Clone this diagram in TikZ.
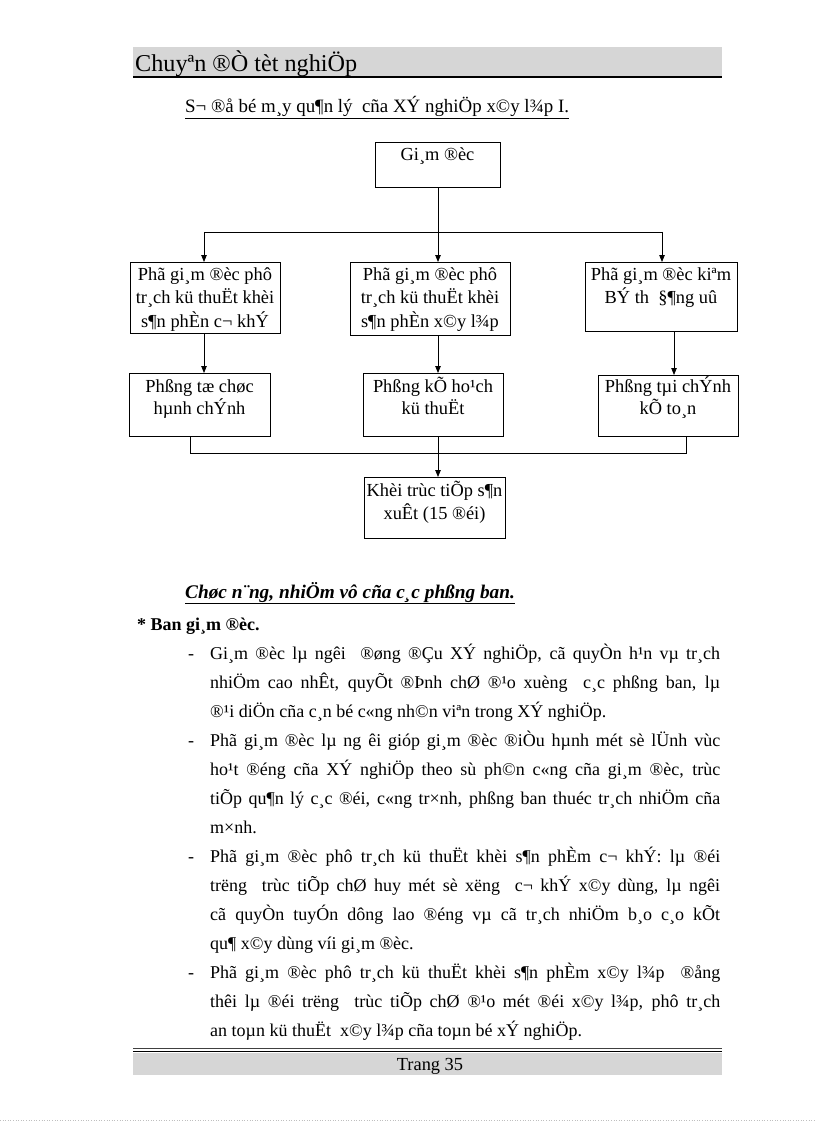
\documentclass[tikz,border=0pt]{standalone}
\usepackage{fontspec}
\setmainfont{Liberation Serif}
\usetikzlibrary{arrows.meta}
\begin{document}
\begin{tikzpicture}[x=1pt,y=-1pt,
  box/.style={draw, line width=0.9pt, anchor=north west, inner sep=0pt},
  btxt/.style={anchor=base, inner sep=0pt, font=\fontsize{18.4}{20}\selectfont},
  arr/.style={line width=0.8pt, -{Triangle[length=7pt,width=5.5pt]}},
  ln/.style={line width=0.8pt},
  body/.style={anchor=base west, inner sep=0pt, font=\fontsize{18}{20}\selectfont},
  band/.style={fill=black!16, draw=none},
]
\useasboundingbox (0,0) rectangle (816,1123);
\fill[white] (0,0) rectangle (816,1123);

% header
\fill[band] (133,47) rectangle (722,76);
\draw[line width=1.3pt] (133,77) -- (722,77);
\node[anchor=base west, inner sep=0pt, font=\fontsize{24.2}{26}\selectfont] (hdr) at (135,72) {Chuyªn ®Ò tèt nghiÖp};

% title
\node[anchor=base west, inner sep=0pt, font=\fontsize{18.9}{22}\selectfont] (ttl) at (185,113) {\underline{S¬ ®å bé m¸y qu¶n lý\ \ cña XÝ nghiÖp x©y l¾p I.}};

% boxes
\node[box, minimum width=125pt, minimum height=45pt] (g) at (375,142) {};
\node[btxt] (gt) at (437.5,161) {Gi¸m ®èc};

\node[box, minimum width=150pt, minimum height=71pt] (b1) at (130,262) {};
\node[btxt] (b1a) at (205,280) {Phã gi¸m ®èc phô};
\node[btxt] (b1b) at (205,303) {tr¸ch kü thuËt khèi};
\node[btxt] (b1c) at (205,327) {s¶n phÈn c¬ khÝ};

\node[box, minimum width=160pt, minimum height=73pt] (b2) at (350,262) {};
\node[btxt] (b2a) at (430,280) {Phã gi¸m ®èc phô};
\node[btxt] (b2b) at (430,303) {tr¸ch kü thuËt khèi};
\node[btxt] (b2c) at (430,327) {s¶n phÈn x©y l¾p};

\node[box, minimum width=152pt, minimum height=69pt] (b3) at (585,262) {};
\node[btxt] (b3a) at (661,280) {Phã gi¸m ®èc kiªm};
\node[btxt] (b3b) at (661,303) {BÝ th\ \ §¶ng uû};

\node[box, minimum width=141pt, minimum height=63pt] (c1) at (129,373) {};
\node[btxt] (c1a) at (199.5,392) {Phßng tæ chøc};
\node[btxt] (c1b) at (199.5,414) {hµnh chÝnh};

\node[box, minimum width=140pt, minimum height=63pt] (c2) at (363,373) {};
\node[btxt] (c2a) at (433,392) {Phßng kÕ ho¹ch};
\node[btxt] (c2b) at (433,414) {kü thuËt};

\node[box, minimum width=140pt, minimum height=61pt] (c3) at (598,375) {};
\node[btxt] (c3a) at (668,392) {Phßng tµi chÝnh};
\node[btxt] (c3b) at (668,414) {kÕ to¸n};

\node[box, minimum width=141pt, minimum height=61pt] (d) at (364,477) {};
\node[btxt] (da) at (434.5,496) {Khèi trùc tiÕp s¶n};
\node[btxt] (db) at (434.5,519) {xuÊt (15 ®éi)};

% connectors
\coordinate (hc) at (438,232);
\coordinate (hl) at (204,232);
\coordinate (hr) at (662,232);
\draw[ln] (g.south -| hc) -- (hc);
\draw[ln] (hl) -- (hr);
\draw[arr] (hl) -- (b1.north -| hl);
\draw[arr] (hc) -- (b2.north -| hc);
\draw[arr] (hr) -- (b3.north -| hr);

\coordinate (v1) at (204,0);
\coordinate (v3) at (674,0);
\draw[arr] (b1.south -| v1) -- (c1.north -| v1);
\draw[arr] (b2.south -| hc) -- (c2.north -| hc);
\draw[arr] (b3.south -| v3) -- (c3.north -| v3);

\coordinate (jl) at (190,453);
\coordinate (jr) at (686,453);
\draw[ln] (c1.south -| jl) -- (jl) -- (jr) -- (c3.south -| jr);
\draw[arr] (c2.south -| hc) -- (d.north -| hc);

% body text
\node[anchor=base west, inner sep=0pt, font=\fontsize{19.3}{20}\selectfont\bfseries\itshape] (h2) at (185,598) {\underline{Chøc n¨ng, nhiÖm vô cña c¸c phßng ban.}};
\node[body, font=\fontsize{18}{20}\selectfont\bfseries] (h3) at (137,630) {* Ban gi¸m ®èc.};

\node[body] (d1) at (188,659) {-};
\node[body] (t11) at (210,659) {\makebox[510pt][s]{Gi¸m ®èc lµ ngêi\ \ ®øng ®Çu XÝ nghiÖp, cã quyÒn h¹n vµ tr¸ch}};
\node[body] (t12) at (210,688) {\makebox[510pt][s]{nhiÖm cao nhÊt, quyÕt ®Þnh chØ ®¹o xuèng\ \ c¸c phßng ban, lµ}};
\node[body] (t13) at (210,717) {®¹i diÖn cña c¸n bé c«ng nh©n viªn trong XÝ nghiÖp.};

\node[body] (d2) at (188,746) {-};
\node[body] (t21) at (210,746) {\makebox[510pt][s]{Phã gi¸m ®èc lµ ng êi gióp gi¸m ®èc ®iÒu hµnh mét sè lÜnh vùc}};
\node[body] (t22) at (210,775) {\makebox[510pt][s]{ho¹t ®éng cña XÝ nghiÖp theo sù ph©n c«ng cña gi¸m ®èc, trùc}};
\node[body] (t23) at (210,804) {\makebox[510pt][s]{tiÕp qu¶n lý c¸c ®éi, c«ng tr×nh, phßng ban thuéc tr¸ch nhiÖm cña}};
\node[body] (t24) at (210,833) {m×nh.};

\node[body] (d3) at (188,862) {-};
\node[body] (t31) at (210,862) {\makebox[510pt][s]{Phã gi¸m ®èc phô tr¸ch kü thuËt khèi s¶n phÈm c¬ khÝ: lµ ®éi}};
\node[body] (t32) at (210,891) {\makebox[510pt][s]{trëng\ \ trùc tiÕp chØ huy mét sè xëng\ \ c¬ khÝ x©y dùng, lµ ngêi}};
\node[body] (t33) at (210,920) {\makebox[510pt][s]{cã quyÒn tuyÓn dông lao ®éng vµ cã tr¸ch nhiÖm b¸o c¸o kÕt}};
\node[body] (t34) at (210,949) {qu¶ x©y dùng víi gi¸m ®èc.};

\node[body] (d4) at (188,978) {-};
\node[body] (t41) at (210,978) {\makebox[510pt][s]{Phã gi¸m ®èc phô tr¸ch kü thuËt khèi s¶n phÈm x©y l¾p\ \ ®ång}};
\node[body] (t42) at (210,1007) {\makebox[510pt][s]{thêi lµ ®éi trëng\ \ trùc tiÕp chØ ®¹o mét ®éi x©y l¾p, phô tr¸ch}};
\node[body] (t43) at (210,1036) {an toµn kü thuËt\ \ x©y l¾p cña toµn bé xÝ nghiÖp.};

% footer
\draw[line width=0.8pt, black!75] (133,1048.5) -- (722,1048.5);
\draw[line width=1.5pt] (133,1051.5) -- (722,1051.5);
\fill[band] (133,1052.5) rectangle (722,1075);
\node[btxt] (ft) at (430,1070) {Trang 35};

\draw[black!25, dotted, line width=0.6pt] (0,1120) -- (816,1120);
\end{tikzpicture}
\end{document}
